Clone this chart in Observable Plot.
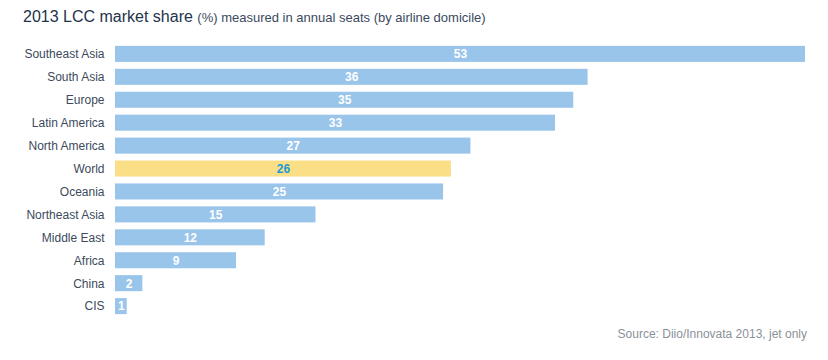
<!DOCTYPE html>
<html>
<head>
<meta charset="utf-8">
<script src="https://cdn.jsdelivr.net/npm/d3@7"></script>
<script src="https://cdn.jsdelivr.net/npm/@observablehq/plot@0.6"></script>
<style>
  html, body { margin: 0; padding: 0; background: #fff; }
  body { width: 828px; height: 360px; position: relative; overflow: hidden;
         font-family: Helvetica, Arial, "Liberation Sans", sans-serif; }
  #title { position: absolute; left: 23px; top: 8px; white-space: nowrap; color: #22344b; }
  #title .main { font-size: 16px; }
  #title .sub { font-size: 13px; color: #3a4a5e; }
  #chart { position: absolute; left: 0; top: 39px; }
  #source { position: absolute; right: 21px; top: 327px; font-size: 12px; color: #8a9199; white-space: nowrap; }
</style>
</head>
<body>
<div id="title"><span class="main">2013 LCC market share</span> <span class="sub">(%) measured in annual seats (by airline domicile)</span></div>
<div id="chart"></div>
<div id="source">Source: Diio/Innovata 2013, jet only</div>
<script>
const regions = ["Southeast Asia", "South Asia", "Europe", "Latin America", "North America", "World",
                 "Oceania", "Northeast Asia", "Middle East", "Africa", "China", "CIS"];
const shares = [53, 36.3, 35.2, 33.8, 27.3, 25.8, 25.2, 15.4, 11.5, 9.3, 2.1, 0.9];
const labels = ["53", "36", "35", "33", "27", "26", "25", "15", "12", "9", "2", "1"];
const highlight = "World";

const data = regions.map((r, i) => ({region: r, share: shares[i], label: labels[i]}));

const chart = Plot.plot({
  width: 828,
  height: 290,
  marginLeft: 115,
  marginRight: 23,
  marginTop: 0,
  marginBottom: 8,
  style: {fontFamily: "Helvetica, Arial, 'Liberation Sans', sans-serif", background: "transparent"},
  x: {domain: [0, 53], axis: null},
  y: {domain: regions, padding: 0.3, round: false, label: null, axis: null},
  marks: [
    Plot.barX(data, {y: "region", x: "share", fill: d => d.region === highlight ? "#fbdf86" : "#99c5eb"}),
    Plot.text(data, {y: "region", x: d => d.share / 2, text: "label",
      fill: d => d.region === highlight ? "#1d9ad6" : "#ffffff",
      fontWeight: "bold", fontSize: 12}),
    Plot.axisY({tickSize: 0, tickPadding: 11, fontSize: 12, color: "#3c4a5c", label: null})
  ]
});
document.getElementById("chart").appendChild(chart);
</script>
</body>
</html>
